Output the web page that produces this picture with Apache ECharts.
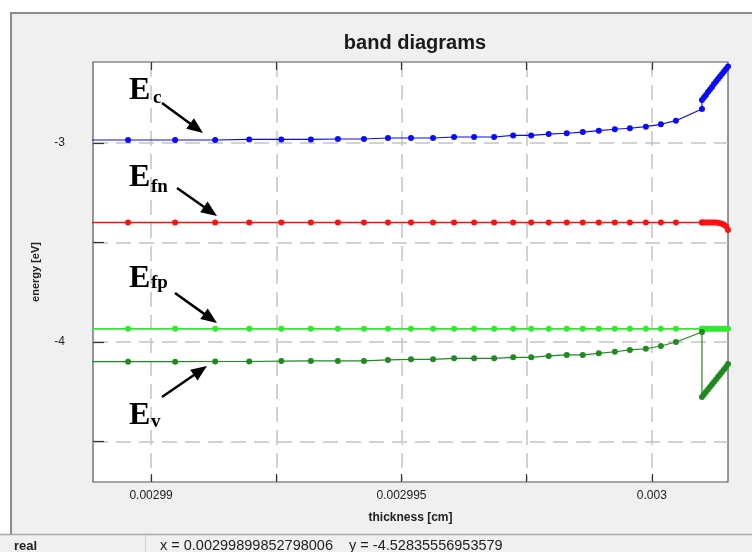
<!DOCTYPE html>
<html><head><meta charset="utf-8">
<script src="https://cdn.jsdelivr.net/npm/echarts@6/dist/echarts.min.js"></script>
<style>html,body{margin:0;padding:0;background:#fff}#c{width:752px;height:552px}</style>
</head><body><div id="c"></div>
<script>
// thickness [cm]; first value lies just left of the visible range, last 14 are the dense points at the contact
const thickness = [0.0029885,
  0.00298954, 0.00299048, 0.00299128, 0.00299196, 0.00299260, 0.00299319, 0.00299373,
  0.00299425, 0.00299473, 0.00299519, 0.00299563, 0.00299605, 0.00299645, 0.00299685,
  0.00299723, 0.00299759, 0.00299794, 0.00299830, 0.00299862, 0.00299894, 0.00299926,
  0.00299956, 0.00299988, 0.00300018, 0.00300048, 0.00300100,
  0.00300100, 0.00300104, 0.00300108, 0.00300112, 0.00300116, 0.00300120, 0.00300124,
  0.00300128, 0.00300132, 0.00300136, 0.00300140, 0.00300144, 0.00300148, 0.00300152];
const Ec = [-2.985,
  -2.985, -2.985, -2.985, -2.982, -2.982, -2.982, -2.980,
  -2.980, -2.975, -2.975, -2.975, -2.970, -2.970, -2.970,
  -2.962, -2.962, -2.955, -2.951, -2.945, -2.938, -2.931,
  -2.926, -2.918, -2.906, -2.888, -2.829,
  -2.784, -2.771, -2.759, -2.744, -2.731, -2.719, -2.704,
  -2.691, -2.678, -2.666, -2.653, -2.641, -2.628, -2.616];
const Efn = [-3.400,
  -3.400, -3.400, -3.400, -3.400, -3.400, -3.400, -3.400,
  -3.400, -3.400, -3.400, -3.400, -3.400, -3.400, -3.400,
  -3.400, -3.400, -3.400, -3.400, -3.400, -3.400, -3.400,
  -3.400, -3.400, -3.400, -3.400, -3.400,
  -3.400, -3.400, -3.400, -3.400, -3.400, -3.400, -3.400,
  -3.400, -3.401, -3.403, -3.406, -3.411, -3.418, -3.437];
const Efp = [-3.934,
  -3.934, -3.934, -3.934, -3.934, -3.934, -3.934, -3.934,
  -3.934, -3.934, -3.934, -3.934, -3.934, -3.934, -3.934,
  -3.934, -3.934, -3.934, -3.934, -3.934, -3.934, -3.934,
  -3.934, -3.934, -3.934, -3.934, -3.934,
  -3.934, -3.934, -3.934, -3.934, -3.934, -3.934, -3.934,
  -3.934, -3.934, -3.934, -3.934, -3.934, -3.934, -3.934];
const Ev = [-4.099,
  -4.099, -4.099, -4.098, -4.098, -4.096, -4.095, -4.095,
  -4.095, -4.090, -4.087, -4.087, -4.082, -4.082, -4.082,
  -4.077, -4.077, -4.070, -4.065, -4.065, -4.057, -4.049,
  -4.040, -4.034, -4.020, -4.000, -3.950,
  -4.276, -4.264, -4.251, -4.239, -4.226, -4.214, -4.201,
  -4.189, -4.176, -4.163, -4.151, -4.138, -4.126, -4.111];
const xTicks = [0.0029900, 0.0029925, 0.0029950, 0.0029975, 0.0030000];
const xLabels = [0.00299, 0.002995, 0.003];
const yTicks = [-4.5, -4, -3.5, -3];
const yLabels = [-4, -3];
const title = 'band diagrams';
const xName = 'thickness [cm]';
const yName = 'energy [eV]';
const statusText = 'x = 0.00299899852798006    y = -4.52835556953579';

const pairs = ys => thickness.map((x, i) => [x, ys[i]]);
function arrow(x1, y1, x2, y2) {
  const dx = x2 - x1, dy = y2 - y1, L = Math.hypot(dx, dy), ux = dx / L, uy = dy / L, h = 16, w = 6.5;
  const bx = x2 - ux * h, by = y2 - uy * h;
  return [
    {type: 'line', shape: {x1, y1, x2: bx + ux * 2, y2: by + uy * 2}, style: {stroke: '#000', lineWidth: 2.5}, z: 100},
    {type: 'polygon', shape: {points: [[x2, y2], [bx - uy * w, by + ux * w], [bx + uy * w, by - ux * w]]}, style: {fill: '#000'}, z: 100}
  ];
}
function lbl(t, x, y, size) {
  return {type: 'text', z: 100, style: {text: t, x, y, font: 'bold ' + size + 'px "Liberation Serif", "Times New Roman", serif', fill: '#000', textAlign: 'left', verticalAlign: 'middle'}};
}

const chart = echarts.init(document.getElementById('c'), null, {renderer: 'canvas'});
const sc = (name, ys, color, lw) => ({
  name, type: 'line', data: pairs(ys), symbol: 'circle', symbolSize: 6, showSymbol: true,
  lineStyle: {color, width: lw}, itemStyle: {color}, clip: true, animation: false, z: 5
});
const gridLine = {show: true, lineStyle: {color: '#c4c4c4', width: 1.5, type: [15, 8]}};
chart.setOption({
  backgroundColor: '#f0f0f0',
  animation: false,
  title: {text: title, left: 410, top: 28, textAlign: 'center',
    textStyle: {fontFamily: '"Liberation Sans", Arial, sans-serif', fontWeight: 'bold', fontSize: 20, color: '#1a1a1a'}},
  grid: {left: 93, top: 62, right: 24, bottom: 70, show: true, backgroundColor: '#fff', borderColor: '#555', borderWidth: 1.2},
  xAxis: [{
    type: 'value', min: 0.00298884, max: 0.00300152, position: 'bottom',
    name: xName, nameLocation: 'middle', nameGap: 30,
    nameTextStyle: {fontFamily: '"Liberation Sans", Arial, sans-serif', fontWeight: 'bold', fontSize: 12, color: '#222'},
    axisLine: {show: false},
    axisTick: {show: true, inside: true, length: 8, customValues: xTicks, lineStyle: {color: '#333', width: 1.2}},
    axisLabel: {customValues: xLabels, margin: 8, fontFamily: '"Liberation Sans", Arial, sans-serif', fontSize: 12, color: '#222',
      formatter: v => String(parseFloat(Number(v).toPrecision(6)))},
    splitLine: gridLine
  }, {
    type: 'value', min: 0.00298884, max: 0.00300152, position: 'top',
    axisLine: {show: false},
    axisTick: {show: true, inside: true, length: 8, customValues: xTicks, lineStyle: {color: '#333', width: 1.2}},
    axisLabel: {show: false}, splitLine: {show: false}
  }],
  yAxis: {
    type: 'value', min: -4.7035, max: -2.593,
    name: yName, nameLocation: 'middle', nameGap: 52, nameRotate: 90,
    nameTextStyle: {fontFamily: '"Liberation Sans", Arial, sans-serif', fontWeight: 'bold', fontSize: 11, color: '#222'},
    axisLine: {show: false},
    axisTick: {show: true, inside: true, length: 11, customValues: yTicks, lineStyle: {color: '#333', width: 1.2}},
    axisLabel: {customValues: yLabels, margin: 28, fontFamily: '"Liberation Sans", Arial, sans-serif', fontSize: 12, color: '#222',
      formatter: v => String(v)},
    splitLine: gridLine
  },
  series: [
    sc('Ec', Ec, '#0a0aff', 1.2),
    sc('Efn', Efn, '#ff1010', 1.5),
    sc('Efp', Efp, '#33e833', 1.8),
    sc('Ev', Ev, '#1f8a1f', 1.2)
  ],
  graphic: [
    {type: 'rect', shape: {x: 0, y: 0, width: 752, height: 13}, style: {fill: '#fff'}, z: -1},
    {type: 'rect', shape: {x: 0, y: 0, width: 10, height: 534}, style: {fill: '#fff'}, z: -1},
    {type: 'line', shape: {x1: 10, y1: 13, x2: 752, y2: 13}, style: {stroke: '#8c8c8c', lineWidth: 2}},
    {type: 'line', shape: {x1: 11, y1: 13, x2: 11, y2: 534}, style: {stroke: '#8c8c8c', lineWidth: 2}},
    {type: 'line', shape: {x1: 0, y1: 534.5, x2: 752, y2: 534.5}, style: {stroke: '#a8a8a8', lineWidth: 1.5}},
    {type: 'line', shape: {x1: 145.5, y1: 535, x2: 145.5, y2: 552}, style: {stroke: '#cfcfcf', lineWidth: 1}},
    {type: 'text', style: {text: 'real', x: 14, y: 546, font: 'bold 13px "Liberation Sans", Arial, sans-serif', fill: '#222', verticalAlign: 'middle'}},
    {type: 'text', style: {text: statusText, x: 160, y: 546, font: '14.5px "Liberation Sans", Arial, sans-serif', fill: '#222', verticalAlign: 'middle'}},
    lbl('E', 129, 91, 32), lbl('c', 153, 98, 19),
    lbl('E', 129, 178, 32), lbl('fn', 151, 187, 19),
    lbl('E', 129, 279, 32), lbl('fp', 151, 283, 19),
    lbl('E', 129, 416, 32), lbl('v', 151, 422, 19),
    ...arrow(162, 103, 203, 133),
    ...arrow(177, 188, 217, 216),
    ...arrow(175, 293, 217, 323),
    ...arrow(162, 397, 207, 366)
  ]
});
</script></body></html>
